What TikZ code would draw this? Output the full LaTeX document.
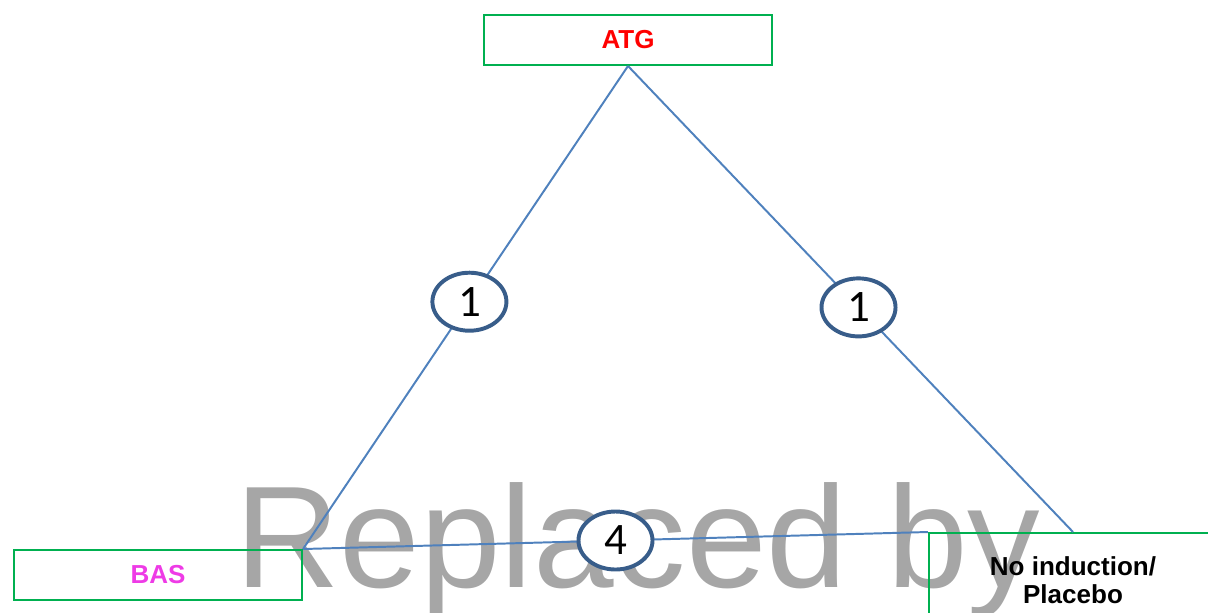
\documentclass[tikz,border=0pt]{standalone}
\usepackage{fontspec}
\setmainfont{Liberation Sans}
\newfontfamily\numfont{Carlito}
\usetikzlibrary{shapes.geometric}
\definecolor{boxgreen}{HTML}{00B050}
\definecolor{edgeblue}{HTML}{4F81BD}
\definecolor{ringblue}{HTML}{385D8A}
\definecolor{basmag}{HTML}{EE3BE6}
\definecolor{markgray}{HTML}{A6A6A6}
\tikzset{
	bras/.style={draw=boxgreen, line width=1.4pt, minimum width=7.2cm, minimum height=1.25cm, inner sep=0pt, font=\fontsize{18.5}{20}\selectfont\bfseries, align=center},
	arete/.style={draw=edgeblue, line width=1.4pt},
	etude/.style={ellipse, draw=ringblue, line width=2.8pt, fill=white, minimum width=1.85cm, minimum height=1.45cm, inner sep=0pt, font=\numfont\fontsize{32}{32}\selectfont}
}
\begin{document}
\begin{tikzpicture}[x=0.025cm, y=-0.025cm]
		\useasboundingbox (0,0) rectangle (1208,612);
		%Filigrane
		\node[anchor=base west, inner sep=0pt, text=markgray, font=\fontsize{103}{103}\selectfont] (filigrane) at (235,587) {Replaced by};
		%Noeud du diagramme
		\node[bras, text=red] (ATG) at (628,40) {ATG};
		\node[bras, text=basmag] (BAS) at (158,575) {BAS};
		\node[bras, minimum height=2.35cm] (NI) at (1073,580) {No induction/\\Placebo};
		%Aretes du reseau
		\draw[arete] (ATG.south) -- (BAS.north east) node[etude, pos=0.488] (E1) {1};
		\draw[arete] (ATG.south) -- (NI.north) node[etude, pos=0.518] (E2) {1};
		\draw[arete] (BAS.north east) -- (NI.north west) node[etude, pos=0.5] (E3) {4};
	\end{tikzpicture}
\end{document}
